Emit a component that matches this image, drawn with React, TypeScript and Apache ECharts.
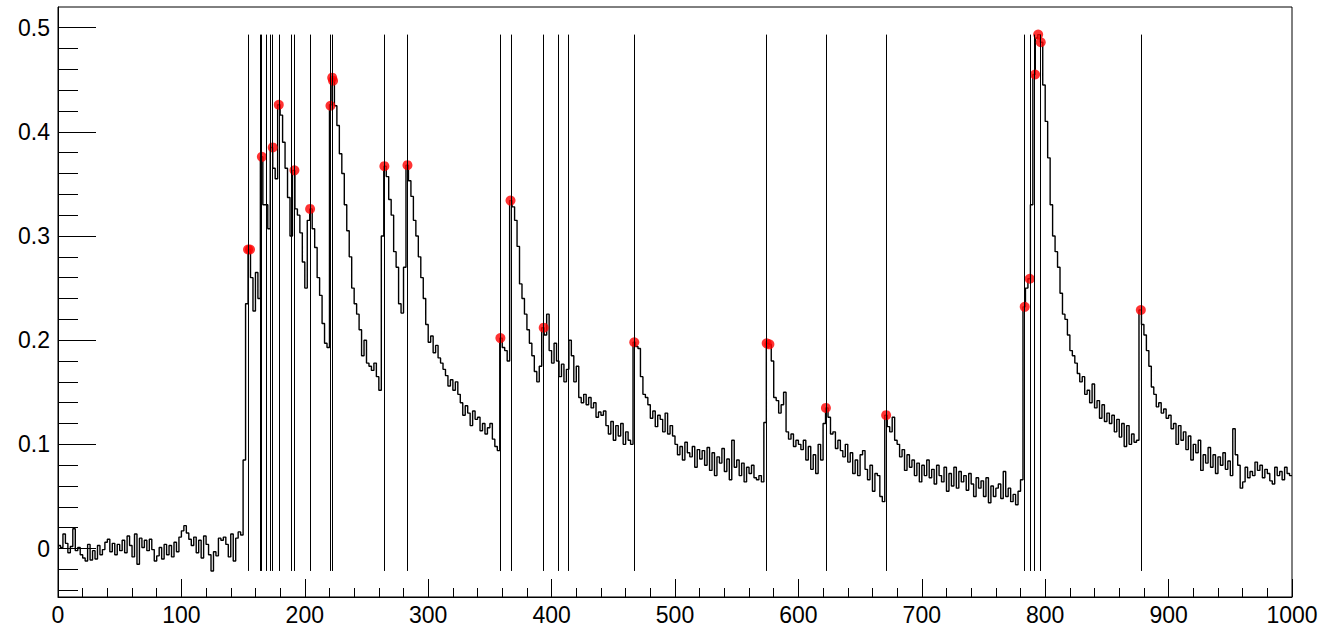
import React, { useEffect, useRef } from "react";
import * as echarts from "echarts";

// Histogram: 500 bins of width 2 over [0, 1000]
const BIN_WIDTH = 2;
const X_MIN = 0;
const X_MAX = 1000;

const binContent: number[] = [
  // 0 - 18
  0.003, 0.001, 0.014, 0.005, -0.004, 0.002, 0.019, -0.002, 0.001, -0.006,
  // 20 - 38
  -0.009, -0.012, 0.004, -0.011, -0.002, -0.010, 0.003, -0.006, -0.001, 0.006,
  // 40 - 58
  0.009, -0.003, 0.005, -0.006, 0.004, -0.002, 0.008, -0.004, 0.012, 0.003,
  // 60 - 78
  -0.008, 0.014, -0.015, 0.010, 0.001, 0.008, -0.002, 0.009, -0.001, -0.012,
  // 80 - 98
  -0.007, 0.001, -0.010, 0.004, -0.006, 0.003, -0.008, 0.006, -0.003, 0.011,
  // 100 - 118
  0.017, 0.022, 0.015, 0.009, 0.003, 0.011, -0.004, 0.008, -0.009, 0.012,
  // 120 - 138
  0.004, -0.006, -0.0215, -0.003, -0.007, 0.010, 0.008, 0.011, 0.004, -0.008,
  // 140 - 158
  0.014, -0.012, 0.010, 0.016, 0.013, 0.085, 0.235, 0.287, 0.26, 0.228,
  // 160 - 178
  0.265, 0.24, 0.376, 0.33, 0.33, 0.307, 0.385, 0.365, 0.355, 0.426,
  // 180 - 198
  0.416, 0.39, 0.365, 0.337, 0.30, 0.363, 0.326, 0.32, 0.303, 0.275,
  // 200 - 218
  0.25, 0.315, 0.326, 0.307, 0.289, 0.26, 0.243, 0.216, 0.197, 0.193,
  // 220 - 238
  0.426, 0.451, 0.425, 0.406, 0.379, 0.36, 0.33, 0.305, 0.28, 0.25,
  // 240 - 258
  0.235, 0.225, 0.21, 0.185, 0.2, 0.178, 0.175, 0.171, 0.178, 0.165,
  // 260 - 278
  0.152, 0.30, 0.367, 0.357, 0.335, 0.32, 0.285, 0.27, 0.235, 0.226,
  // 280 - 298
  0.27, 0.368, 0.353, 0.338, 0.315, 0.30, 0.28, 0.26, 0.24, 0.215,
  // 300 - 318
  0.198, 0.204, 0.188, 0.195, 0.183, 0.178, 0.172, 0.166, 0.156, 0.162,
  // 320 - 338
  0.152, 0.16, 0.148, 0.14, 0.128, 0.137, 0.13, 0.118, 0.132, 0.124,
  // 340 - 358
  0.126, 0.113, 0.12, 0.11, 0.116, 0.12, 0.105, 0.098, 0.094, 0.202,
  // 360 - 378
  0.193, 0.19, 0.18, 0.334, 0.328, 0.315, 0.29, 0.254, 0.24, 0.225,
  // 380 - 398
  0.21, 0.197, 0.185, 0.17, 0.16, 0.175, 0.212, 0.205, 0.225, 0.19,
  // 400 - 418
  0.178, 0.197, 0.18, 0.165, 0.177, 0.16, 0.172, 0.2, 0.185, 0.16,
  // 420 - 438
  0.175, 0.145, 0.14, 0.148, 0.138, 0.145, 0.135, 0.14, 0.126, 0.131,
  // 440 - 458
  0.128, 0.132, 0.118, 0.11, 0.122, 0.104, 0.118, 0.108, 0.12, 0.1,
  // 460 - 478
  0.112, 0.104, 0.1, 0.198, 0.194, 0.192, 0.165, 0.148, 0.145, 0.138,
  // 480 - 498
  0.125, 0.132, 0.117, 0.128, 0.124, 0.112, 0.13, 0.11, 0.118, 0.108,
  // 500 - 518
  0.1, 0.09, 0.098, 0.085, 0.102, 0.092, 0.088, 0.098, 0.078, 0.095,
  // 520 - 538
  0.086, 0.094, 0.08, 0.097, 0.075, 0.092, 0.07, 0.088, 0.082, 0.096,
  // 540 - 558
  0.074, 0.086, 0.066, 0.104, 0.078, 0.085, 0.07, 0.082, 0.064, 0.078,
  // 560 - 578
  0.072, 0.08, 0.068, 0.066, 0.07, 0.064, 0.121, 0.197, 0.196, 0.18,
  // 580 - 598
  0.145, 0.142, 0.13, 0.138, 0.15, 0.112, 0.105, 0.11, 0.098, 0.104,
  // 600 - 618
  0.1, 0.095, 0.104, 0.085, 0.098, 0.076, 0.09, 0.072, 0.1, 0.085,
  // 620 - 638
  0.12, 0.135, 0.126, 0.11, 0.112, 0.096, 0.104, 0.094, 0.088, 0.1,
  // 640 - 658
  0.083, 0.092, 0.072, 0.085, 0.07, 0.09, 0.094, 0.076, 0.066, 0.08,
  // 660 - 678
  0.055, 0.072, 0.07, 0.05, 0.045, 0.128, 0.117, 0.112, 0.126, 0.104,
  // 680 - 698
  0.1, 0.088, 0.095, 0.075, 0.09, 0.078, 0.085, 0.07, 0.082, 0.064,
  // 700 - 718
  0.08, 0.07, 0.085, 0.068, 0.076, 0.062, 0.08, 0.07, 0.064, 0.078,
  // 720 - 738
  0.055, 0.072, 0.06, 0.078, 0.058, 0.074, 0.064, 0.07, 0.056, 0.072,
  // 740 - 758
  0.062, 0.05, 0.068, 0.058, 0.065, 0.05, 0.068, 0.044, 0.06, 0.05,
  // 760 - 778
  0.058, 0.062, 0.048, 0.074, 0.05, 0.058, 0.045, 0.052, 0.042, 0.055,
  // 780 - 798
  0.066, 0.232, 0.25, 0.259, 0.33, 0.455, 0.49, 0.4933, 0.486, 0.445,
  // 800 - 818
  0.41, 0.375, 0.33, 0.30, 0.285, 0.27, 0.245, 0.225, 0.22, 0.205,
  // 820 - 838
  0.19, 0.185, 0.178, 0.168, 0.16, 0.165, 0.148, 0.152, 0.14, 0.158,
  // 840 - 858
  0.135, 0.142, 0.125, 0.138, 0.122, 0.13, 0.12, 0.128, 0.112, 0.124,
  // 860 - 878
  0.107, 0.12, 0.098, 0.118, 0.1, 0.11, 0.102, 0.104, 0.229, 0.215,
  // 880 - 898
  0.205, 0.19, 0.175, 0.155, 0.148, 0.136, 0.14, 0.13, 0.134, 0.125,
  // 900 - 918
  0.128, 0.115, 0.12, 0.1, 0.118, 0.104, 0.112, 0.095, 0.108, 0.085,
  // 920 - 938
  0.1, 0.092, 0.104, 0.075, 0.09, 0.082, 0.097, 0.078, 0.09, 0.072,
  // 940 - 958
  0.088, 0.08, 0.092, 0.076, 0.084, 0.07, 0.115, 0.09, 0.08, 0.058,
  // 960 - 978
  0.064, 0.078, 0.068, 0.074, 0.07, 0.083, 0.075, 0.08, 0.068, 0.076,
  // 980 - 998
  0.072, 0.065, 0.062, 0.078, 0.07, 0.074, 0.066, 0.078, 0.072, 0.07,
];

// Positions of the found peaks (vertical markers)
const peakLines: number[] = [
  154.1, 163.6, 165.1, 168.7, 171.6, 173.7, 179.2, 188.7, 191.4, 204.4,
  221.0, 222.0, 264.5, 283.3, 358.5, 367.0, 393.6, 405.4, 413.5, 467.0,
  574.2, 622.3, 671.1, 783.4, 787.5, 791.5, 796.3, 877.6,
];

// Peak candidates drawn as red dots: [x, height]
const peakMarkers: [number, number][] = [
  [154.0, 0.287], [155.6, 0.287], [165.2, 0.376], [174.0, 0.385],
  [178.9, 0.426], [191.6, 0.363], [204.3, 0.326], [220.8, 0.425],
  [222.2, 0.452], [222.9, 0.449], [264.5, 0.367], [283.2, 0.368],
  [358.5, 0.202], [366.7, 0.334], [393.6, 0.212], [467.0, 0.198],
  [574.3, 0.197], [576.5, 0.196], [622.3, 0.135], [671.1, 0.128],
  [783.4, 0.232], [787.5, 0.259], [791.8, 0.455], [794.3, 0.4933],
  [796.4, 0.486], [877.5, 0.229],
];

const Y_MIN = -0.0465;
const Y_MAX = 0.5198;
const yMajorTicks = [0, 0.1, 0.2, 0.3, 0.4, 0.5];
const yMinorTicks = [
  -0.04, -0.02, 0.02, 0.04, 0.06, 0.08, 0.12, 0.14, 0.16, 0.18, 0.22,
  0.24, 0.26, 0.28, 0.32, 0.34, 0.36, 0.38, 0.42, 0.44, 0.46, 0.48,
];

const FONT = "'Liberation Sans', Arial, Helvetica, sans-serif";

export default function App() {
  const ref = useRef<HTMLDivElement>(null);

  useEffect(() => {
    if (!ref.current) return;
    const chart = echarts.init(ref.current, undefined, { renderer: "svg" });

    // step outline: each bin's left edge, then the closing right edge
    const histPoints: [number, number][] = binContent.map((v, i) => [
      X_MIN + i * BIN_WIDTH,
      v,
    ]);
    histPoints.push([X_MAX, binContent[binContent.length - 1]]);

    const lo = Math.min(...binContent);
    const hi = Math.max(...binContent);

    chart.setOption({
      animation: false,
      backgroundColor: "#fff",
      grid: {
        left: 58,
        right: 33,
        top: 7,
        bottom: 31,
        show: true,
        borderColor: "#000",
        borderWidth: 1,
        backgroundColor: "transparent",
      },
      xAxis: {
        type: "value",
        min: X_MIN,
        max: X_MAX,
        interval: 100,
        axisLine: { show: true, onZero: false, lineStyle: { color: "#000", width: 1 } },
        axisTick: { show: true, inside: true, length: 18, lineStyle: { color: "#000" } },
        minorTick: { show: true, splitNumber: 5, length: 9, lineStyle: { color: "#000" } },
        splitLine: { show: false },
        axisLabel: {
          color: "#000",
          fontSize: 23,
          fontFamily: FONT,
          margin: 6,
          showMinLabel: true,
          showMaxLabel: true,
          hideOverlap: false,
          formatter: (v: number) => String(Math.round(v)),
        },
      },
      yAxis: [
        {
          type: "value",
          min: Y_MIN,
          max: Y_MAX,
          axisLine: { show: true, onZero: false, lineStyle: { color: "#000", width: 1 } },
          axisTick: {
            show: true,
            inside: true,
            length: 38,
            customValues: yMajorTicks,
            lineStyle: { color: "#000" },
          },
          splitLine: { show: false },
          axisLabel: {
            customValues: yMajorTicks,
            color: "#000",
            fontSize: 23,
            fontFamily: FONT,
            margin: 8,
            formatter: (v: number) => (Math.abs(v) < 1e-9 ? "0" : v.toFixed(1)),
          },
        },
        {
          type: "value",
          min: Y_MIN,
          max: Y_MAX,
          position: "left",
          axisLine: { show: false },
          axisTick: {
            show: true,
            inside: true,
            length: 20,
            customValues: yMinorTicks,
            lineStyle: { color: "#000" },
          },
          splitLine: { show: false },
          axisLabel: { show: false },
        },
      ],
      series: [
        {
          type: "line",
          step: "end",
          data: histPoints,
          showSymbol: false,
          symbol: "none",
          lineStyle: { color: "#000", width: 1.4 },
          z: 2,
          markLine: {
            silent: true,
            symbol: ["none", "none"],
            label: { show: false },
            emphasis: { disabled: true },
            lineStyle: { color: "#000", width: 1, type: "solid" },
            data: peakLines.map((x) => [
              { coord: [x, lo] },
              { coord: [x, hi] },
            ]),
          },
        },
        {
          type: "scatter",
          data: peakMarkers,
          symbol: "circle",
          symbolSize: 10,
          itemStyle: { color: "#ff0000" },
          z: 3,
        },
      ],
    });

    return () => chart.dispose();
  }, []);

  return (
    <div
      ref={ref}
      style={{
        position: "absolute",
        left: 0,
        top: 0,
        width: 1325,
        height: 628,
        background: "#fff",
      }}
    />
  );
}
